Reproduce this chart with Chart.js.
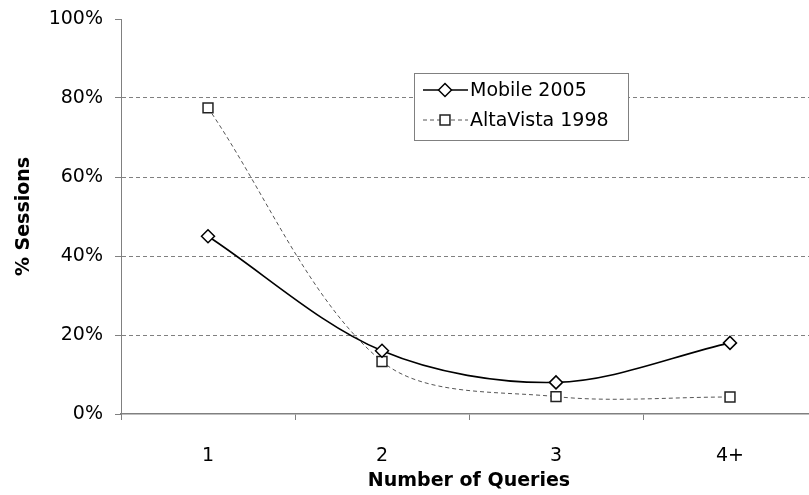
<!DOCTYPE html>
<html><head><meta charset="utf-8">
<script src="https://cdn.jsdelivr.net/npm/chart.js@4.4.1/dist/chart.umd.min.js"></script>
<style>
html,body{margin:0;padding:0;background:#fff;overflow:hidden;width:809px;height:495px}
#wrap{position:relative;width:818px;height:495px}
#c{display:block}
</style></head>
<body><div id="wrap"><canvas id="c" width="818" height="495"></canvas></div>
<script>
const categories = ['1', '2', '3', '4+'];
const mobile2005 = [45, 16, 8, 18];
const altaVista1998 = [77.5, 13.3, 4.4, 4.3];
const seriesNames = ['Mobile 2005', 'AltaVista 1998'];
const yTickValues = [0, 20, 40, 60, 80, 100];

const FONT = 'DejaVu Sans, Verdana, sans-serif';

const boxLegend = {
  id: 'boxLegend',
  afterDraw(chart) {
    const ctx = chart.ctx;
    const bx = 414, by = 73, bw = 214, bh = 67;
    ctx.save();
    ctx.fillStyle = '#fff';
    ctx.fillRect(bx, by, bw, bh);
    ctx.strokeStyle = '#808080';
    ctx.lineWidth = 1;
    ctx.strokeRect(bx + 0.5, by + 0.5, bw, bh);
    ctx.font = '19px ' + FONT;
    ctx.textBaseline = 'middle';
    chart.data.datasets.forEach((ds, i) => {
      const cy = by + 17 + i * 30;
      ctx.save();
      ctx.strokeStyle = ds.borderColor;
      ctx.lineWidth = ds.borderWidth;
      ctx.setLineDash(ds.borderDash || []);
      ctx.beginPath();
      ctx.moveTo(bx + 9, cy);
      ctx.lineTo(bx + 54, cy);
      ctx.stroke();
      ctx.restore();
      ctx.save();
      ctx.fillStyle = ds.pointBackgroundColor;
      ctx.strokeStyle = ds.pointBorderColor;
      ctx.lineWidth = ds.pointBorderWidth;
      Chart.helpers.drawPoint(ctx, {pointStyle: ds.pointStyle, radius: ds.pointRadius, rotation: 0, borderWidth: ds.pointBorderWidth}, bx + 31, cy);
      ctx.restore();
      ctx.fillStyle = '#000';
      ctx.fillText(ds.label, bx + 56, cy + 1);
    });
    ctx.restore();
  }
};

new Chart(document.getElementById('c'), {
  type: 'line',
  data: {
    labels: categories,
    datasets: [
      {
        label: seriesNames[0],
        data: mobile2005,
        borderColor: '#000',
        borderWidth: 1.6,
        tension: 0.33,
        pointStyle: 'rectRot',
        pointRadius: 6.5,
        pointBackgroundColor: '#fff',
        pointBorderColor: '#000',
        pointBorderWidth: 1.5,
        fill: false
      },
      {
        label: seriesNames[1],
        data: altaVista1998,
        borderColor: '#555',
        borderWidth: 1,
        borderDash: [4, 3],
        tension: 0.33,
        pointStyle: 'rect',
        pointRadius: 7,
        pointBackgroundColor: '#fff',
        pointBorderColor: '#222',
        pointBorderWidth: 1.5,
        fill: false
      }
    ]
  },
  options: {
    responsive: false,
    animation: false,
    devicePixelRatio: 1,
    layout: {autoPadding: false, padding: {top: 19, right: 1, left: 0, bottom: 0}},
    plugins: {legend: {display: false}, tooltip: {enabled: false}},
    scales: {
      x: {
        type: 'category',
        offset: true,
        grid: {offset: true, drawOnChartArea: false, drawTicks: true, tickLength: 6, tickColor: '#808080', color: '#808080'},
        border: {display: true, color: '#808080', width: 1.5},
        ticks: {color: '#000', font: {family: FONT, size: 19}, padding: 25, maxRotation: 0},
        title: {display: true, text: 'Number of Queries', color: '#000', font: {family: FONT, size: 19, weight: 'bold'}, padding: {top: 0, bottom: 3}},
        afterFit: s => { s.height = 81; s.paddingLeft = 0; s.paddingRight = 0; }
      },
      y: {
        min: 0, max: 100,
        afterBuildTicks: s => { s.ticks = yTickValues.map(v => ({value: v})); },
        grid: {
          color: c => (c.tick && (c.tick.value === 0 || c.tick.value === 100)) ? 'rgba(0,0,0,0)' : '#808080',
          tickColor: '#808080', tickLength: 6, lineWidth: 1
        },
        border: {display: true, color: '#808080', width: 1, dash: [4, 3]},
        ticks: {color: '#000', font: {family: FONT, size: 19}, padding: 12, callback: v => v + '%'},
        title: {display: true, text: '% Sessions', color: '#000', font: {family: FONT, size: 19, weight: 'bold'}, padding: {top: 13, bottom: 0}},
        afterFit: s => { s.width = 121; s.paddingTop = 0; s.paddingBottom = 0; }
      }
    }
  },
  plugins: [boxLegend]
});
</script>
</body></html>
